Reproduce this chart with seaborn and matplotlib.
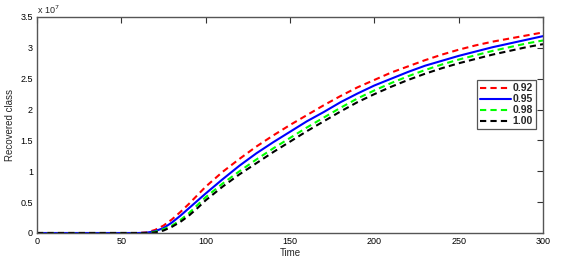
import numpy as np
import pandas as pd
import matplotlib
matplotlib.use("Agg")
import matplotlib.pyplot as plt
import seaborn as sns
from matplotlib.ticker import FuncFormatter, MultipleLocator

# ---- data (values in units of 1e7) ----
time = [0, 10, 20, 30, 40, 50, 60, 65, 70, 75, 80, 85, 90, 95, 100,
        110, 120, 130, 140, 150, 160, 170, 180, 190, 200,
        210, 220, 230, 240, 250, 260, 270, 280, 290, 300]
r_092 = [0, 0, 0, 0, 0, 0, 0.0, 0.01, 0.05, 0.12, 0.22, 0.34, 0.47, 0.61, 0.75,
         0.99, 1.20, 1.40, 1.58, 1.75, 1.91, 2.07, 2.22, 2.36, 2.48,
         2.60, 2.70, 2.80, 2.89, 2.97, 3.04, 3.10, 3.15, 3.20, 3.25]
r_095 = [0, 0, 0, 0, 0, 0, 0.0, 0.005, 0.03, 0.08, 0.17, 0.28, 0.40, 0.52, 0.64,
         0.87, 1.09, 1.29, 1.47, 1.64, 1.81, 1.96, 2.12, 2.26, 2.39,
         2.50, 2.61, 2.71, 2.79, 2.87, 2.94, 3.01, 3.07, 3.13, 3.19]
r_098 = [0, 0, 0, 0, 0, 0, 0.0, 0.0, 0.02, 0.06, 0.12, 0.21, 0.32, 0.45, 0.58,
         0.80, 1.00, 1.19, 1.37, 1.54, 1.71, 1.87, 2.03, 2.18, 2.31,
         2.43, 2.54, 2.64, 2.73, 2.81, 2.88, 2.95, 3.01, 3.07, 3.12]
r_100 = [0, 0, 0, 0, 0, 0, 0.0, 0.0, 0.01, 0.04, 0.10, 0.18, 0.28, 0.40, 0.53,
         0.75, 0.95, 1.13, 1.31, 1.48, 1.65, 1.81, 1.97, 2.12, 2.25,
         2.37, 2.48, 2.58, 2.67, 2.75, 2.82, 2.89, 2.95, 3.01, 3.06]
labels = ["0.92", "0.95", "0.98", "1.00"]
series = [r_092, r_095, r_098, r_100]
scale = 1e7

rows = []
for lab, vals in zip(labels, series):
    for t, v in zip(time, vals):
        rows.append({"Time": t, "value": v * scale, "series": lab})
df = pd.DataFrame(rows)

sns.set_style("white")
plt.rcParams["font.family"] = ["Liberation Sans", "DejaVu Sans"]

fig = plt.figure(figsize=(5.65, 2.6), dpi=100)
ax = fig.add_axes([37/565, 1-233/260, (543-37)/565, (233-17)/260])

palette = {"0.92": "#ff0000", "0.95": "#0000ff", "0.98": "#00ff00", "1.00": "#000000"}
dashes = {"0.92": (3, 2), "0.95": "", "0.98": (3, 2), "1.00": (3, 2)}
sns.lineplot(data=df, x="Time", y="value", hue="series", style="series",
             palette=palette, dashes=dashes, linewidth=1.5, ax=ax,
             hue_order=labels, style_order=labels)

ax.set_xlim(0, 300)
ax.set_ylim(0, 3.5e7)
ax.xaxis.set_major_locator(MultipleLocator(50))
ax.yaxis.set_major_locator(MultipleLocator(0.5e7))
ax.yaxis.set_major_formatter(FuncFormatter(lambda v, p: "%g" % (v / scale)))
ax.tick_params(direction="in", length=4, width=0.8, labelsize=6.5,
               top=True, right=True, colors="#333333", labelcolor="black", pad=3)
for s in ax.spines.values():
    s.set_color("#555555")
    s.set_linewidth(1.0)
ax.set_xlabel("Time", fontsize=7, labelpad=1)
ax.set_ylabel("Recovered class", fontsize=7, labelpad=4)
ax.text(0.0, 1.005, r"x 10$^7$", transform=ax.transAxes, fontsize=6.5,
        ha="left", va="bottom")

leg = ax.legend(loc="upper right", bbox_to_anchor=(0.986, 0.708),
                borderaxespad=0, fontsize=7.5, handlelength=3.0,
                handletextpad=0.1, labelspacing=0.1, borderpad=0.3,
                fancybox=False, framealpha=1, edgecolor="#555555")
for t in leg.get_texts():
    t.set_fontweight("bold")
leg.get_frame().set_linewidth(0.9)

fig.savefig("out.png", dpi=100)
